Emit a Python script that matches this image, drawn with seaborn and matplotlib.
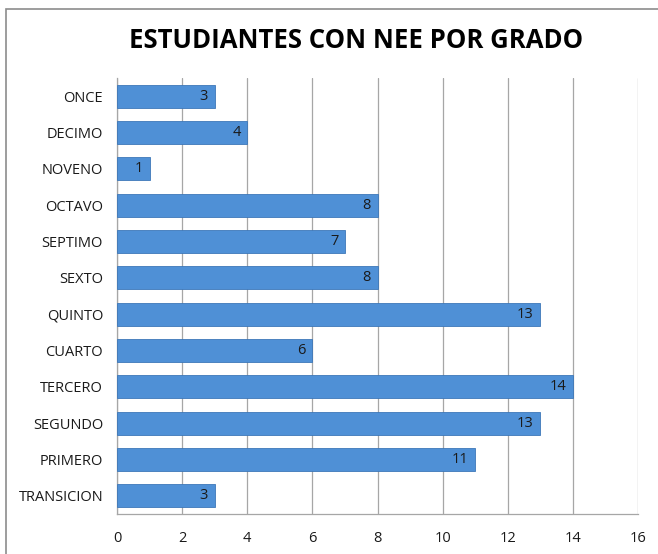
import matplotlib
matplotlib.use('Agg')
import matplotlib.pyplot as plt
import seaborn as sns
import pandas as pd
from matplotlib.patches import Rectangle

grados = ['ONCE', 'DECIMO', 'NOVENO', 'OCTAVO', 'SEPTIMO', 'SEXTO', 'QUINTO',
          'CUARTO', 'TERCERO', 'SEGUNDO', 'PRIMERO', 'TRANSICION']
estudiantes = [3, 4, 1, 8, 7, 8, 13, 6, 14, 13, 11, 3]
ticks_x = [0, 2, 4, 6, 8, 10, 12, 14, 16]

df = pd.DataFrame({'grado': grados, 'n': estudiantes})

sns.set_style('white')
plt.rcParams['font.family'] = ['Open Sans', 'DejaVu Sans']

fig = plt.figure(figsize=(6.58, 5.54), dpi=100)
ax = fig.add_axes([117 / 658, 1 - 514 / 554, 521 / 658, 436 / 554])

# marco del gráfico
fig.patches.append(Rectangle((6 / 658, -0.1), 1.2, 1 - 9 / 554 + 0.1,
                             transform=fig.transFigure, fill=False,
                             edgecolor='#8c8c8c', linewidth=1.2))

sns.barplot(data=df, x='n', y='grado', orient='h', color='#4f90d6',
            saturation=1, width=0.64, ax=ax, zorder=3,
            edgecolor='#3d77b8', linewidth=0.6)

for i, v in enumerate(estudiantes):
    ax.text(v - 0.2, i, str(v), ha='right', va='center', fontsize=10.5,
            color='#1a1a1a', zorder=4)

ax.set_xlim(0, 16)
ax.set_xticks(ticks_x)
ax.xaxis.grid(True, color='#a6a6a6', linewidth=0.9, zorder=0)
ax.set_xlabel('')
ax.set_ylabel('')
ax.tick_params(axis='both', length=0, labelsize=10.5, colors='#1a1a1a')
ax.tick_params(axis='x', pad=12)
ax.tick_params(axis='y', pad=10)
for s in ['top', 'right']:
    ax.spines[s].set_visible(False)
for s in ['left', 'bottom']:
    ax.spines[s].set_color('#a6a6a6')
    ax.spines[s].set_linewidth(0.9)

fig.text(356 / 658, 1 - 40 / 554, 'ESTUDIANTES CON NEE POR GRADO',
         ha='center', va='center', fontsize=18.5, fontweight='bold', color='black')

fig.savefig('out.png', dpi=100)
